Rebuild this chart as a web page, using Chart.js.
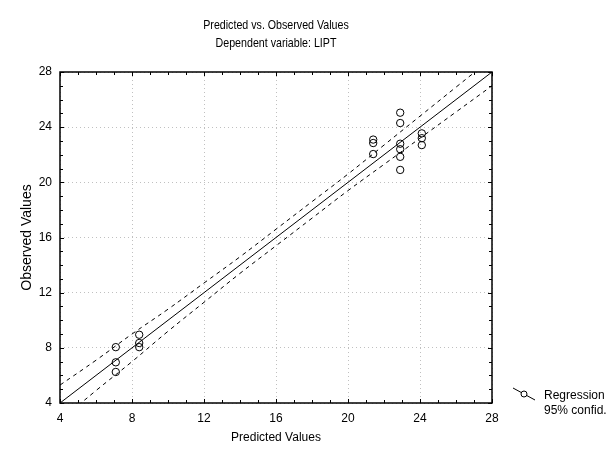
<!DOCTYPE html>
<html>
<head>
<meta charset="utf-8">
<script src="https://cdn.jsdelivr.net/npm/chart.js@4.4.1/dist/chart.umd.min.js"></script>
<style>
  html, body { margin: 0; padding: 0; background: #fff; }
  #wrap { width: 608px; height: 453px; }
</style>
</head>
<body>
<div id="wrap"><canvas id="chart"></canvas></div>
<script>
var predicted = [7.1, 7.1, 7.1, 8.4, 8.4, 8.4, 21.4, 21.4, 21.4, 22.9, 22.9, 22.9, 22.9, 22.9, 22.9, 24.1, 24.1, 24.1];
var observed = [8.05, 6.95, 6.25, 8.95, 8.35, 8.05, 23.1, 22.85, 22.05, 25.05, 24.3, 22.8, 22.4, 21.85, 20.9, 23.55, 23.2, 22.7];

var lineX = [4, 28];
var lineY = [4, 28];

var bandX = [4, 6, 8, 10, 12, 14, 16, 18, 20, 22, 24, 26, 28];
var bandUpper = [5.3, 7.1, 9.0, 10.8, 12.7, 14.6, 16.6, 18.6, 20.6, 22.7, 24.8, 26.9, 29.0];
var bandLower = [2.7, 4.9, 7.0, 9.2, 11.3, 13.4, 15.4, 17.4, 19.4, 21.3, 23.2, 25.1, 27.0];

var xTicks = [4, 8, 12, 16, 20, 24, 28];
var yTicks = [4, 8, 12, 16, 20, 24, 28];

var titleText = 'Predicted vs. Observed Values';
var subtitleText = 'Dependent variable: LIPT';
var legendLabels = ['Regression', '95% confid.'];

var FONT = '"Liberation Sans", Arial, sans-serif';

function pairs(xs, ys) {
    return xs.map(function (x, i) { return { x: x, y: ys[i] }; });
}

// the title font in the original is a condensed Arial, so squeeze it a bit
function narrowText(ctx, text, x, y) {
    ctx.save();
    ctx.translate(x, y);
    ctx.scale(0.82, 1);
    ctx.fillText(text, 0, 0);
    ctx.restore();
}

// frame, inner ticks, titles and legend
var decorations = {
    id: 'decorations',
    afterDraw: function (chart) {
        var ctx = chart.ctx;
        var a = chart.chartArea;
        var xs = chart.scales.x;
        var ys = chart.scales.y;
        ctx.save();
        ctx.strokeStyle = '#000';
        ctx.lineWidth = 1;
        ctx.beginPath();
        for (var v = 4; v <= 28; v++) {
            var len = (v % 4 === 0) ? 4 : 3;
            var px = Math.round(xs.getPixelForValue(v)) + 0.5;
            var py = Math.round(ys.getPixelForValue(v)) + 0.5;
            ctx.moveTo(px, a.bottom); ctx.lineTo(px, a.bottom - len);
            ctx.moveTo(px, a.top); ctx.lineTo(px, a.top + len);
            ctx.moveTo(a.left, py); ctx.lineTo(a.left + len, py);
            ctx.moveTo(a.right, py); ctx.lineTo(a.right - len, py);
        }
        ctx.stroke();
        ctx.lineWidth = 1.5;
        ctx.strokeRect(a.left, a.top, a.right - a.left, a.bottom - a.top);

        var cx = (a.left + a.right) / 2;
        ctx.fillStyle = '#000';
        ctx.font = '13px ' + FONT;
        ctx.textAlign = 'center';
        ctx.textBaseline = 'middle';
        narrowText(ctx, titleText, cx, 25);
        narrowText(ctx, subtitleText, cx, 43);

        // legend
        ctx.lineWidth = 1;
        ctx.beginPath();
        ctx.moveTo(513, 388);
        ctx.lineTo(535, 400);
        ctx.stroke();
        ctx.beginPath();
        ctx.arc(524, 394, 3, 0, Math.PI * 2);
        ctx.fillStyle = '#fff';
        ctx.fill();
        ctx.stroke();
        ctx.fillStyle = '#000';
        ctx.textAlign = 'left';
        ctx.font = '12px ' + FONT;
        ctx.fillText(legendLabels[0], 544, 396);
        ctx.fillText(legendLabels[1], 544, 411);
        ctx.restore();
    }
};

var chart = new Chart(document.getElementById('chart'), {
    type: 'scatter',
    data: {
        datasets: [{
            label: 'Observed',
            data: pairs(predicted, observed),
            pointStyle: 'circle',
            pointRadius: 3.7,
            pointBorderWidth: 1,
            pointBorderColor: '#000',
            pointBackgroundColor: 'rgba(255,255,255,0)',
            showLine: false,
            order: 0
        }, {
            label: 'Regression',
            type: 'line',
            data: pairs(lineX, lineY),
            borderColor: '#000',
            borderWidth: 1,
            pointRadius: 0,
            fill: false,
            order: 1
        }, {
            label: 'Upper 95%',
            type: 'line',
            data: pairs(bandX, bandUpper),
            borderColor: '#000',
            borderWidth: 1,
            borderDash: [4, 4],
            pointRadius: 0,
            tension: 0.4,
            fill: false,
            order: 2
        }, {
            label: 'Lower 95%',
            type: 'line',
            data: pairs(bandX, bandLower),
            borderColor: '#000',
            borderWidth: 1,
            borderDash: [4, 4],
            pointRadius: 0,
            tension: 0.4,
            fill: false,
            order: 3
        }]
    },
    options: {
        responsive: true,
        maintainAspectRatio: false,
        animation: false,
        layout: { padding: { left: 0, top: 72, right: 116, bottom: 0 } },
        plugins: {
            legend: { display: false },
            title: { display: false },
            tooltip: { enabled: false }
        },
        scales: {
            x: {
                type: 'linear',
                min: 4,
                max: 28,
                afterBuildTicks: function (scale) {
                    scale.ticks = xTicks.map(function (v) { return { value: v }; });
                },
                afterFit: function (scale) { scale.height = 50; },
                grid: {
                    color: '#c0c0c0',
                    drawTicks: false
                },
                border: { display: false, dash: [1, 3] },
                ticks: {
                    color: '#000',
                    padding: 8,
                    maxRotation: 0,
                    font: { family: FONT, size: 12 }
                },
                title: {
                    display: true,
                    text: 'Predicted Values',
                    color: '#000',
                    padding: { top: 0, bottom: 8 },
                    font: { family: FONT, size: 12 }
                }
            },
            y: {
                type: 'linear',
                min: 4,
                max: 28,
                afterBuildTicks: function (scale) {
                    scale.ticks = yTicks.map(function (v) { return { value: v }; });
                },
                afterFit: function (scale) { scale.width = 60; },
                grid: {
                    color: '#c0c0c0',
                    drawTicks: false
                },
                border: { display: false, dash: [1, 3] },
                ticks: {
                    color: '#000',
                    padding: 8,
                    font: { family: FONT, size: 12 }
                },
                title: {
                    display: true,
                    text: 'Observed Values',
                    color: '#000',
                    padding: { top: 19, bottom: 0 },
                    font: { family: FONT, size: 14 }
                }
            }
        }
    },
    plugins: [decorations]
});
</script>
</body>
</html>
